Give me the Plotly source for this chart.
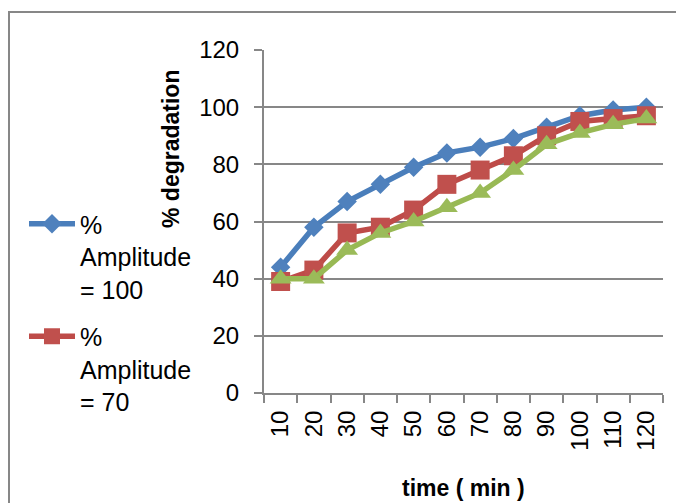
import plotly.graph_objects as go

time_labels = ["10", "20", "30", "40", "50", "60", "70", "80", "90", "100", "110", "120"]
amp100 = [44, 58, 67, 73, 79, 84, 86, 89, 93, 97, 99, 100]
amp70 = [39, 43, 56, 58, 64, 73, 78, 83, 90, 95, 96, 97]
amp40 = [40, 40, 50, 56, 60, 65, 70, 78, 87, 91, 94, 96]

names = ["%<br>Amplitude<br>= 100", "%<br>Amplitude<br>= 70", "%<br>Amplitude<br>= 40"]
line_colors = ["#4A7EBB", "#BE4B48", "#98B954"]
marker_colors = ["#4F81BD", "#C0504D", "#9BBB59"]
symbols = ["diamond", "square", "triangle-up"]
sizes = [15, 19, 19]

FONT = "Liberation Sans"
GRAY = "#878787"

fig = go.Figure()
for i, ys in enumerate([amp100, amp70, amp40]):
    fig.add_trace(go.Scatter(
        x=time_labels, y=ys, name=names[i], mode="lines+markers",
        line=dict(color=line_colors[i], width=5.5),
        marker=dict(symbol=symbols[i], size=sizes[i], color=marker_colors[i],
                    line=dict(width=0)),
        legendgroup="g%d" % i,
        showlegend=(i < 2),
    ))

W, H = 676, 503
L, R, T, B = 264, 13, 50, 110
pw, ph = W - L - R, H - T - B

def px_x(p):
    return (p - L) / pw

def px_y(p):
    return (H - B - p) / ph

fig.update_layout(
    width=W, height=H,
    margin=dict(l=L, r=R, t=T, b=B, autoexpand=False),
    paper_bgcolor="white", plot_bgcolor="white",
    font=dict(family=FONT, color="black", size=24),
    legend=dict(
        xref="container", yref="container",
        x=24 / W, y=1 - 201 / H, xanchor="left", yanchor="top",
        font=dict(family=FONT, size=25, color="black"),
        itemwidth=46, valign="top", tracegroupgap=12,
        bgcolor="rgba(0,0,0,0)", borderwidth=0,
    ),
    xaxis=dict(
        type="category", categoryorder="array", categoryarray=time_labels,
        range=[-0.5, 11.5], tickson="boundaries",
        showgrid=False, zeroline=False,
        showline=True, linecolor=GRAY, linewidth=2,
        ticks="outside", ticklen=8, tickcolor=GRAY, tickwidth=2,
        tickangle=-90, tickfont=dict(family=FONT, size=24, color="black"),
        ticklabelstandoff=6,
    ),
    yaxis=dict(
        range=[0, 120], dtick=20, tick0=0,
        showgrid=True, gridcolor=GRAY, gridwidth=2,
        zeroline=False,
        showline=True, linecolor=GRAY, linewidth=2,
        ticks="outside", ticklen=8, tickcolor=GRAY, tickwidth=2,
        tickfont=dict(family=FONT, size=24, color="black"),
        ticklabelstandoff=10,
    ),
    shapes=[dict(
        type="rect", xref="paper", yref="paper",
        x0=px_x(9), x1=px_x(720), y0=px_y(560), y1=px_y(12),
        line=dict(color=GRAY, width=2), fillcolor="rgba(0,0,0,0)",
    )],
    annotations=[
        dict(text="% degradation", xref="paper", yref="paper",
             x=px_x(171), y=px_y(149), textangle=-90, showarrow=False,
             xanchor="center", yanchor="middle",
             font=dict(family=FONT, size=23, color="black", weight="bold")),
        dict(text="time ( min )", xref="paper", yref="paper",
             x=px_x(463), y=px_y(488), showarrow=False,
             xanchor="center", yanchor="middle",
             font=dict(family=FONT, size=23, color="black", weight="bold")),
    ],
)

fig.write_html("out.html")
